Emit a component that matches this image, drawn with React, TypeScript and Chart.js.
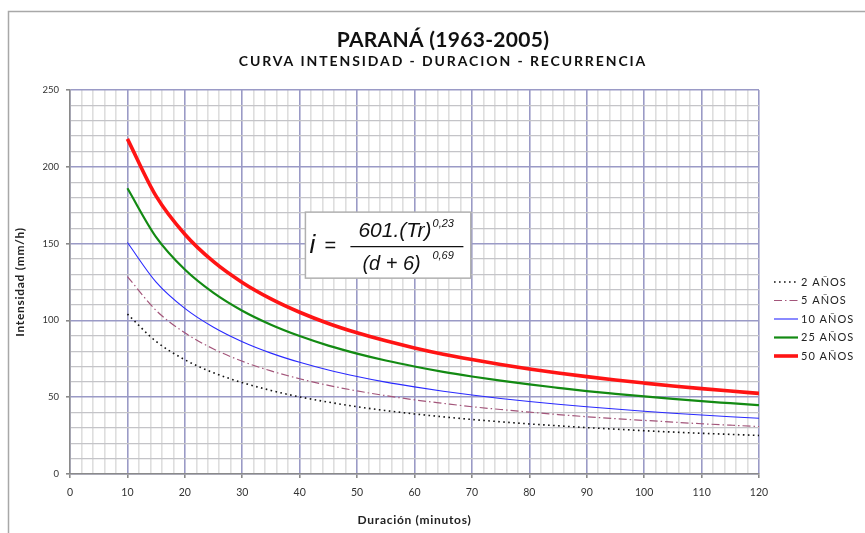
import { useEffect, useRef } from 'react';
import { Chart, registerables } from 'chart.js';

Chart.register(...registerables);

const TITLE = 'PARANÁ (1963-2005)';
const SUBTITLE = 'CURVA INTENSIDAD - DURACION - RECURRENCIA';
const X_TITLE = 'Duración (minutos)';
const Y_TITLE = 'Intensidad (mm/h)';

// duration (minutes)
const durations = [10, 15, 20, 25, 30, 35, 40, 45, 50, 55, 60, 65, 70, 75, 80, 85, 90, 95, 100, 105, 110, 115, 120];

// intensity (mm/h) per return period
const tr2 = [104.1, 86.3, 74.4, 65.9, 59.5, 54.4, 50.2, 46.8, 43.8, 41.3, 39.1, 37.2, 35.5, 34.0, 32.6, 31.4, 30.2, 29.2, 28.2, 27.3, 26.5, 25.8, 25.1];
const tr5 = [128.5, 106.5, 91.9, 81.4, 73.4, 67.1, 62.0, 57.7, 54.1, 51.0, 48.3, 46.0, 43.8, 42.0, 40.3, 38.7, 37.3, 36.0, 34.9, 33.8, 32.7, 31.8, 30.9];
const tr10 = [150.7, 124.9, 107.8, 95.5, 86.1, 78.7, 72.7, 67.7, 63.5, 59.8, 56.7, 53.9, 51.4, 49.2, 47.2, 45.4, 43.8, 42.3, 40.9, 39.6, 38.4, 37.3, 36.3];
const tr25 = [186.0, 154.2, 133.1, 117.9, 106.3, 97.2, 89.8, 83.6, 78.4, 73.9, 70.0, 66.5, 63.5, 60.8, 58.3, 56.1, 54.0, 52.2, 50.5, 48.9, 47.4, 46.1, 44.8];
const tr50 = [218.2, 180.9, 156.1, 138.2, 124.7, 114.0, 105.3, 98.0, 91.9, 86.7, 82.1, 78.0, 74.5, 71.3, 68.4, 65.8, 63.4, 61.2, 59.2, 57.3, 55.6, 54.0, 52.5];

const seriesLabels = ['2 AÑOS', '5 AÑOS', '10 AÑOS', '25 AÑOS', '50 AÑOS'];
const seriesValues = [tr2, tr5, tr10, tr25, tr50];

const X_MIN = 0, X_MAX = 120, X_MINOR = 2, X_MAJOR = 10;
const Y_MIN = 0, Y_MAX = 250, Y_MINOR = 10, Y_MAJOR = 50;

const styles = [
  { color: '#111111', width: 1.6, dash: [1.6, 3.4] },
  { color: '#a3557a', width: 1.2, dash: [8, 3, 1.5, 3] },
  { color: '#2a2aff', width: 1.1, dash: [] },
  { color: '#138a13', width: 2.2, dash: [] },
  { color: '#ff1414', width: 3.6, dash: [] },
];

const FONT = 'Lato, "Open Sans", sans-serif';
const MATH = '"Liberation Sans", Arial, sans-serif';

const decorPlugin = {
  id: 'decor',
  beforeDraw(chart: any) {
    const ctx = chart.ctx;
    ctx.save();
    ctx.fillStyle = '#ffffff';
    ctx.fillRect(0, 0, chart.width, chart.height);
    ctx.strokeStyle = '#a8a8a8';
    ctx.lineWidth = 1.5;
    ctx.strokeRect(8.5, 11.5, chart.width + 20, chart.height + 20);
    ctx.restore();
  },
  afterDraw(chart: any) {
    const ctx = chart.ctx;
    const area = chart.chartArea;
    const xs = chart.scales.x;
    const ys = chart.scales.y;
    ctx.save();
    // titles
    ctx.fillStyle = '#111111';
    ctx.textAlign = 'center';
    ctx.textBaseline = 'middle';
    ctx.font = `bold 21px ${FONT}`;
    (ctx as any).letterSpacing = '0.3px';
    ctx.fillText(TITLE, 443, 40);
    ctx.font = `bold 14px ${FONT}`;
    (ctx as any).letterSpacing = '1.9px';
    ctx.fillText(SUBTITLE, 443, 61);
    // axis titles
    ctx.font = `bold 12px ${FONT}`;
    (ctx as any).letterSpacing = '0.7px';
    ctx.fillStyle = '#222222';
    ctx.fillText(X_TITLE, (area.left + area.right) / 2, 520);
    ctx.save();
    ctx.translate(20, (area.top + area.bottom) / 2);
    ctx.rotate(-Math.PI / 2);
    ctx.fillText(Y_TITLE, 0, 0);
    ctx.restore();
    (ctx as any).letterSpacing = '0px';

    // formula box (anchored to the scales)
    const bx0 = xs.getPixelForValue(41);
    const bx1 = xs.getPixelForValue(69.8);
    const by0 = ys.getPixelForValue(170.5);
    const by1 = ys.getPixelForValue(127.5);
    ctx.fillStyle = '#ffffff';
    ctx.fillRect(bx0, by0, bx1 - bx0, by1 - by0);
    ctx.strokeStyle = '#b0b0b0';
    ctx.lineWidth = 1.5;
    ctx.strokeRect(bx0, by0, bx1 - bx0, by1 - by0);
    const fx = bx0, fy = by0;
    ctx.fillStyle = '#111111';
    ctx.textAlign = 'left';
    ctx.textBaseline = 'alphabetic';
    ctx.font = `italic 26px ${MATH}`;
    ctx.fillText('i', fx + 4, fy + 41);
    ctx.font = `20px ${MATH}`;
    ctx.fillText('=', fx + 19, fy + 40);
    ctx.font = `italic 21px ${MATH}`;
    const num = '601.(Tr)';
    ctx.fillText(num, fx + 53, fy + 25);
    const numW = ctx.measureText(num).width;
    ctx.font = `italic 20px ${MATH}`;
    ctx.fillText('(d + 6)', fx + 57, fy + 58);
    ctx.font = `italic 11px ${MATH}`;
    ctx.fillText('0,23', fx + 53 + numW + 1, fy + 15);
    ctx.fillText('0,69', fx + 127, fy + 47);
    ctx.strokeStyle = '#111111';
    ctx.lineWidth = 1.2;
    ctx.beginPath();
    ctx.moveTo(fx + 45, fy + 34.5);
    ctx.lineTo(fx + 158, fy + 34.5);
    ctx.stroke();

    // legend
    ctx.font = `11px ${FONT}`;
    (ctx as any).letterSpacing = '1px';
    ctx.textBaseline = 'middle';
    chart.data.datasets.forEach((ds: any, i: number) => {
      const ly = 282 + i * 18.5;
      ctx.strokeStyle = ds.borderColor;
      ctx.lineWidth = ds.borderWidth;
      ctx.setLineDash(ds.borderDash || []);
      ctx.beginPath();
      ctx.moveTo(774, ly);
      ctx.lineTo(798, ly);
      ctx.stroke();
      ctx.setLineDash([]);
      ctx.fillStyle = '#222222';
      ctx.fillText(ds.label, 801, ly);
    });
    ctx.restore();
  },
};

export default function App() {
  const ref = useRef<HTMLCanvasElement | null>(null);
  useEffect(() => {
    document.body.style.margin = '0';
    const canvas = ref.current;
    if (!canvas) return;
    const datasets = seriesLabels.map((label, i) => ({
      label,
      data: durations.map((d, j) => ({ x: d, y: seriesValues[i][j] })),
      borderColor: styles[i].color,
      backgroundColor: styles[i].color,
      borderWidth: styles[i].width,
      borderDash: styles[i].dash,
      pointRadius: 0,
      tension: 0.4,
      cubicInterpolationMode: 'monotone' as const,
      fill: false,
    }));
    const isMajorX = (v: number) => Math.abs(v % X_MAJOR) < 1e-6;
    const isMajorY = (v: number) => Math.abs(v % Y_MAJOR) < 1e-6;
    const chart = new Chart(canvas, {
      type: 'line',
      data: { datasets },
      options: {
        responsive: false,
        animation: false,
        layout: { padding: { left: 0, top: 90, right: 106, bottom: 0 } },
        plugins: { legend: { display: false }, title: { display: false }, tooltip: { enabled: false } },
        scales: {
          x: {
            type: 'linear',
            min: X_MIN,
            max: X_MAX,
            afterFit: (s: any) => { s.height = 59; },
            ticks: {
              stepSize: X_MINOR,
              autoSkip: false,
              maxRotation: 0,
              padding: 8,
              color: '#333333',
              font: { family: FONT, size: 10.5 },
              callback: (v: any) => (isMajorX(Number(v)) ? String(v) : ''),
            },
            grid: {
              color: (c: any) => (isMajorX(c.tick.value) ? '#9a9ac6' : '#dedede'),
              lineWidth: 1.6,
              tickLength: 4,
              tickColor: (c: any) => (isMajorX(c.tick.value) ? '#8a8a8a' : 'rgba(0,0,0,0)'),
            },
            border: { color: '#8a8a8a', width: 1.5 },
          },
          y: {
            type: 'linear',
            min: Y_MIN,
            max: Y_MAX,
            afterFit: (s: any) => { s.width = 70; },
            ticks: {
              stepSize: Y_MINOR,
              autoSkip: false,
              padding: 7,
              color: '#333333',
              font: { family: FONT, size: 9.5 },
              callback: (v: any) => (isMajorY(Number(v)) ? String(v) : ''),
            },
            grid: {
              color: (c: any) => (isMajorY(c.tick.value) ? '#9a9ac6' : '#c4c4c8'),
              lineWidth: (c: any) => (isMajorY(c.tick.value) ? 1.6 : 1.2),
              tickLength: 4,
              tickColor: (c: any) => (isMajorY(c.tick.value) ? '#8a8a8a' : 'rgba(0,0,0,0)'),
            },
            border: { color: '#8a8a8a', width: 1.5 },
          },
        },
      },
      plugins: [decorPlugin],
    });
    return () => chart.destroy();
  }, []);
  return <canvas ref={ref} width={865} height={533} style={{ display: 'block' }} />;
}
